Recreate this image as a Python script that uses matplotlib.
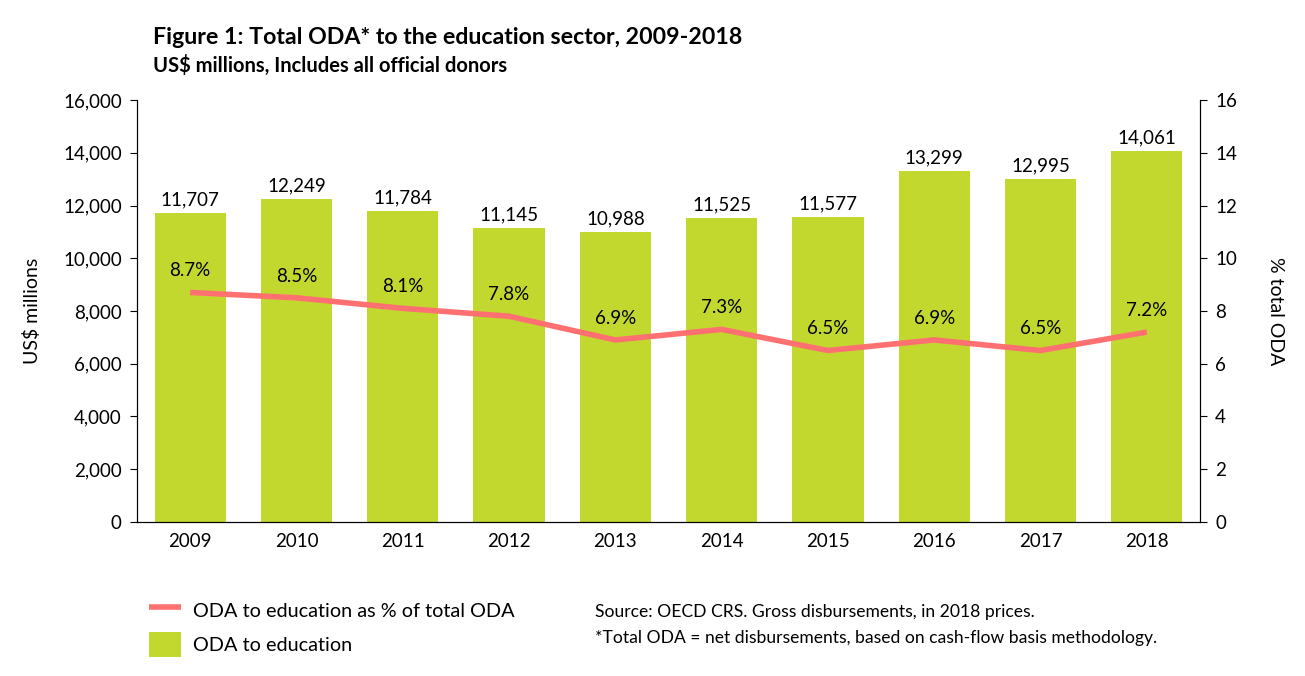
import matplotlib.pyplot as plt
import numpy as np

plt.rcParams['font.family'] = ['Lato', 'DejaVu Sans']

years = ['2009', '2010', '2011', '2012', '2013', '2014', '2015', '2016', '2017', '2018']
oda_edu = [11707, 12249, 11784, 11145, 10988, 11525, 11577, 13299, 12995, 14061]
pct_total = [8.7, 8.5, 8.1, 7.8, 6.9, 7.3, 6.5, 6.9, 6.5, 7.2]

bar_col = '#C3D82F'
line_col = '#FF7070'

fig = plt.figure(figsize=(13.05, 6.76), dpi=100)
ax = fig.add_axes([0.105, 0.228, 0.8145, 0.624])
x = np.arange(len(years))
bars = ax.bar(x, oda_edu, width=0.67, color=bar_col, label='ODA to education')
ax.set_xlim(-0.5, 9.5)
ax.set_ylim(0, 16000)
ax.set_yticks(range(0, 16001, 2000))
ax.set_yticklabels([f'{v:,}' for v in range(0, 16001, 2000)])
ax.set_xticks(x)
ax.set_xticklabels(years)
ax.tick_params(axis='x', length=0, labelsize=13.5, pad=8)
ax.tick_params(axis='y', labelsize=13.5, direction='out', length=5, pad=6)
ax.set_ylabel('US$ millions', fontsize=14, labelpad=16)
ax.spines['top'].set_visible(False)
for xi, v in zip(x, oda_edu):
    ax.text(xi, v + 180, f'{v:,}', ha='center', va='bottom', fontsize=13.5)

ax2 = ax.twinx()
ax2.set_ylim(0, 16)
ax2.set_yticks(range(0, 17, 2))
ax2.tick_params(axis='y', labelsize=13.5, direction='out', length=5, pad=6)
ax2.spines['top'].set_visible(False)
ax2.plot(x, pct_total, color=line_col, lw=4, solid_capstyle='butt',
         label='ODA to education as % of total ODA')
ax2.set_ylabel('% total ODA', fontsize=14, rotation=270, labelpad=34)
for xi, v in zip(x, pct_total):
    ax2.text(xi, v + 0.5, f'{v}%', ha='center', va='bottom', fontsize=13.5)

fig.text(0.117, 0.935, 'Figure 1: Total ODA* to the education sector, 2009-2018',
         fontsize=16.7, fontweight='bold')
fig.text(0.117, 0.893, 'US$ millions, Includes all official donors',
         fontsize=14.5, fontweight='bold')

h1, l1 = ax2.get_legend_handles_labels()
h2, l2 = ax.get_legend_handles_labels()
fig.legend(h1 + h2, l1 + l2, loc='upper left', bbox_to_anchor=(0.108, 0.128),
           frameon=False, fontsize=14.3, handlelength=1.6, handleheight=1.6,
           labelspacing=0.45, handletextpad=0.6, borderaxespad=0)

fig.text(0.456, 0.088, 'Source: OECD CRS. Gross disbursements, in 2018 prices.', fontsize=12.6)
fig.text(0.456, 0.049, '*Total ODA = net disbursements, based on cash-flow basis methodology.',
         fontsize=12.6)

fig.savefig('out.png', dpi=100)
